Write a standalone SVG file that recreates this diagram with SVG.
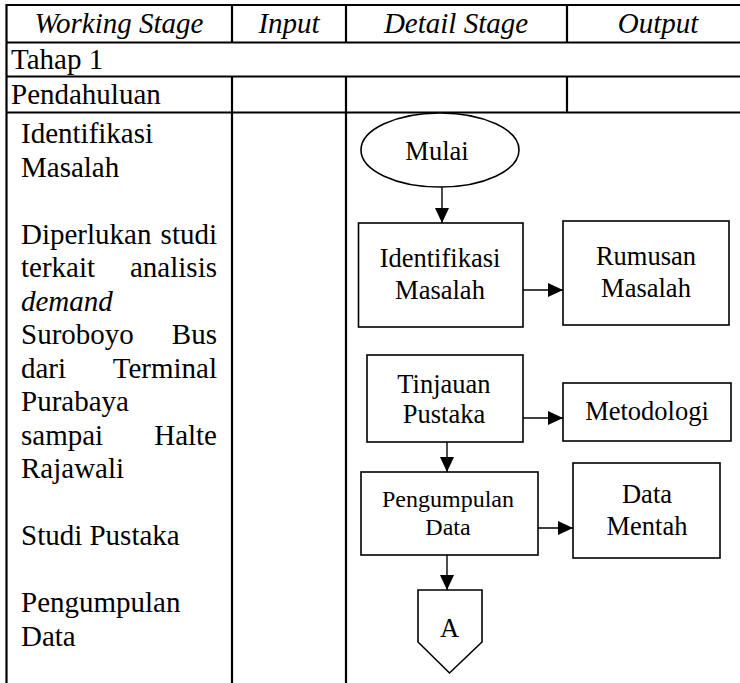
<svg xmlns="http://www.w3.org/2000/svg" width="740" height="683" viewBox="0 0 740 683">
  <style>
    text { font-family: "Liberation Serif", "DejaVu Serif", serif; fill: #000; }
    .grid { stroke: #000; stroke-width: 2.2; fill: none; }
    .box { fill: #fff; stroke: #000; stroke-width: 1.6; }
    .edge { stroke: #000; stroke-width: 1.4; fill: none; marker-end: url(#arrow); }
    .hd { font-style: italic; font-size: 29px; text-anchor: middle; }
    .cell { font-size: 29px; }
    .lbl { font-size: 26.5px; text-anchor: middle; }
    .lbl-sm { font-size: 24px; text-anchor: middle; }
    .end { text-anchor: end; }
  </style>
  <defs>
    <marker id="arrow" markerUnits="userSpaceOnUse" markerWidth="15" markerHeight="14" refX="15" refY="7" orient="auto">
      <path d="M0,0 L15,7 L0,14 Z" fill="#000"/>
    </marker>
  </defs>

  <rect width="740" height="683" fill="#fff"/>

  <!-- table grid -->
  <g id="table">
    <line class="grid" x1="6.5" y1="5" x2="740" y2="5"/>
    <line class="grid" x1="6.5" y1="42.5" x2="740" y2="42.5"/>
    <line class="grid" x1="6.5" y1="76.5" x2="740" y2="76.5"/>
    <line class="grid" x1="6.5" y1="112.5" x2="740" y2="112.5"/>
    <line class="grid" x1="6.5" y1="4" x2="6.5" y2="683"/>
    <line class="grid" x1="232" y1="4" x2="232" y2="42.5"/>
    <line class="grid" x1="346" y1="4" x2="346" y2="42.5"/>
    <line class="grid" x1="567" y1="4" x2="567" y2="42.5"/>
    <line class="grid" x1="232" y1="76.5" x2="232" y2="683"/>
    <line class="grid" x1="346" y1="76.5" x2="346" y2="683"/>
    <line class="grid" x1="567" y1="76.5" x2="567" y2="112.5"/>

    <text class="hd" x="119" y="33">Working Stage</text>
    <text class="hd" x="289" y="33">Input</text>
    <text class="hd" x="456" y="33">Detail Stage</text>
    <text class="hd" x="658" y="33">Output</text>

    <text class="cell" x="11" y="69">Tahap 1</text>
    <text class="cell" x="11" y="104">Pendahuluan</text>
  </g>

  <!-- working stage description -->
  <g id="working-stage">
    <text class="cell" x="21" y="143">Identifikasi</text>
    <text class="cell" x="21" y="176.5">Masalah</text>
    <text class="cell" x="21" y="243.5">Diperlukan</text>
    <text class="cell end" x="217" y="243.5">studi</text>
    <text class="cell" x="21" y="277">terkait</text>
    <text class="cell end" x="217" y="277">analisis</text>
    <text class="cell" x="21" y="310.5" font-style="italic">demand</text>
    <text class="cell" x="21" y="344">Suroboyo</text>
    <text class="cell end" x="217" y="344">Bus</text>
    <text class="cell" x="21" y="377.5">dari</text>
    <text class="cell end" x="217" y="377.5">Terminal</text>
    <text class="cell" x="21" y="411">Purabaya</text>
    <text class="cell" x="21" y="444.5">sampai</text>
    <text class="cell end" x="217" y="444.5">Halte</text>
    <text class="cell" x="21" y="478">Rajawali</text>
    <text class="cell" x="21" y="545">Studi Pustaka</text>
    <text class="cell" x="21" y="612">Pengumpulan</text>
    <text class="cell" x="21" y="645.5">Data</text>
  </g>

  <!-- flowchart connectors -->
  <g id="connectors">
    <line class="edge" x1="442" y1="187" x2="442" y2="223"/>
    <line class="edge" x1="523" y1="290" x2="563" y2="290"/>
    <line class="edge" x1="523" y1="418" x2="563" y2="418"/>
    <line class="edge" x1="447" y1="442" x2="447" y2="472"/>
    <line class="edge" x1="537" y1="528" x2="573" y2="528"/>
    <line class="edge" x1="447" y1="555" x2="447" y2="590"/>
  </g>

  <!-- flowchart nodes -->
  <g id="mulai">
    <ellipse class="box" cx="440" cy="150" rx="79" ry="37"/>
    <text class="lbl" x="437" y="160">Mulai</text>
  </g>
  <g id="identifikasi">
    <rect class="box" x="358.5" y="223" width="164.5" height="104"/>
    <text class="lbl" x="440" y="267">Identifikasi</text>
    <text class="lbl" x="440" y="299">Masalah</text>
  </g>
  <g id="rumusan">
    <rect class="box" x="563" y="221" width="166" height="104"/>
    <text class="lbl" x="646" y="265">Rumusan</text>
    <text class="lbl" x="646" y="297">Masalah</text>
  </g>
  <g id="tinjauan">
    <rect class="box" x="367" y="355" width="156" height="87"/>
    <text class="lbl" x="444" y="393">Tinjauan</text>
    <text class="lbl" x="444" y="423">Pustaka</text>
  </g>
  <g id="metodologi">
    <rect class="box" x="563" y="383" width="168" height="58"/>
    <text class="lbl" x="647" y="420">Metodologi</text>
  </g>
  <g id="pengumpulan">
    <rect class="box" x="361" y="472" width="177" height="83"/>
    <text class="lbl-sm" x="448" y="507">Pengumpulan</text>
    <text class="lbl-sm" x="448" y="535">Data</text>
  </g>
  <g id="data-mentah">
    <rect class="box" x="573" y="463" width="147" height="95"/>
    <text class="lbl" x="647" y="503">Data</text>
    <text class="lbl" x="647" y="535">Mentah</text>
  </g>
  <g id="offpage-a">
    <polygon class="box" points="418,590 482,590 482,642 449.5,673 418,642"/>
    <text class="lbl" x="449.5" y="637">A</text>
  </g>
</svg>
